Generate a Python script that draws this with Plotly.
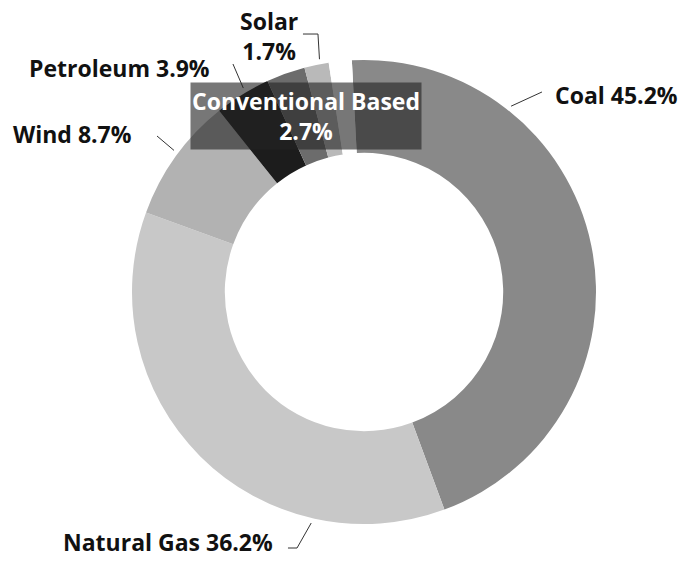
import math
import plotly.graph_objects as go

# ---- data ----
categories = ["Coal", "Natural Gas", "Wind", "Petroleum", "Conventional Based", "Solar", ""]
shares = [45.2, 36.2, 8.7, 3.9, 2.7, 1.7, 1.6]
slice_colors = ["#898989", "#c8c8c8", "#b2b2b2", "#1c1c1c", "#6c6c6c", "#b9b9b9", "#ffffff"]

W, H = 685, 566
CX, CY, R = 364, 292, 232
HOLE = 0.6
ROT = -3


def paper(x, y):
    return x / W, 1 - y / H


def mid_angle(i):
    total = sum(shares)
    start = sum(shares[:i]) / total * 360
    return start + shares[i] / total * 360 / 2


def rim(angle, r):
    a = math.radians(angle)
    return CX + r * math.sin(a), CY - r * math.cos(a)


fig = go.Figure(
    go.Pie(
        labels=categories,
        values=shares,
        hole=HOLE,
        sort=False,
        direction="clockwise",
        rotation=ROT,
        textinfo="none",
        marker=dict(colors=slice_colors, line=dict(width=0)),
        domain=dict(x=[(CX - R) / W, (CX + R) / W], y=[1 - (CY + R) / H, 1 - (CY - R) / H]),
        showlegend=False,
        hoverinfo="label+percent",
    )
)

font = dict(family="Open Sans", size=23, color="#111111", weight=700)

# label layout: (category index, leader angle offset from slice middle, leader path after the tip, text pos, anchor)
label_specs = [
    (0, -40, [(542, 92)], (553, 95), "left"),
    (1, -32, [(297, 548), (288, 548)], (275, 542), "right"),
    (2, 1, [(157, 136)], (134, 134), "right"),
    (3, 1, [(233, 64)], (212, 68), "right"),
    (5, 1, [(318, 34), (303, 34)], (269, 36), "center"),
]

shapes = []
annotations = []
for idx, offset, path_pts, tpos, anchor in label_specs:
    tip = rim(mid_angle(idx) + ROT + offset, R + 5)
    pts = [tip] + path_pts
    d = "M " + " L ".join(f"{paper(x, y)[0]:.4f},{paper(x, y)[1]:.4f}" for x, y in pts)
    shapes.append(dict(type="path", path=d, xref="paper", yref="paper",
                       line=dict(color="#333333", width=1)))
    if categories[idx] == "Solar":
        txt = f"{categories[idx]}<br>{shares[idx]}%"
    else:
        txt = f"{categories[idx]} {shares[idx]}%"
    px_, py_ = paper(*tpos)
    annotations.append(dict(x=px_, y=py_, xref="paper", yref="paper", text=txt,
                            showarrow=False, xanchor=anchor, yanchor="middle",
                            font=font, align="center"))

# highlighted label inside the box
bx, by = paper(306, 116)
annotations.append(dict(
    x=bx, y=by, xref="paper", yref="paper",
    text=f"{categories[4]}<br>{shares[4]}%",
    showarrow=False, xanchor="center", yanchor="middle",
    font=dict(family="Open Sans", size=23, color="#ffffff", weight=700),
    bgcolor="rgba(35,35,35,0.62)", width=228, height=64, borderpad=1, align="center",
))

fig.update_layout(
    width=W, height=H,
    margin=dict(l=0, r=0, t=0, b=0),
    paper_bgcolor="white", plot_bgcolor="white",
    shapes=shapes, annotations=annotations,
)

fig.write_html("out.html", config={"displayModeBar": False},
               post_script="document.body.style.margin='0';")
